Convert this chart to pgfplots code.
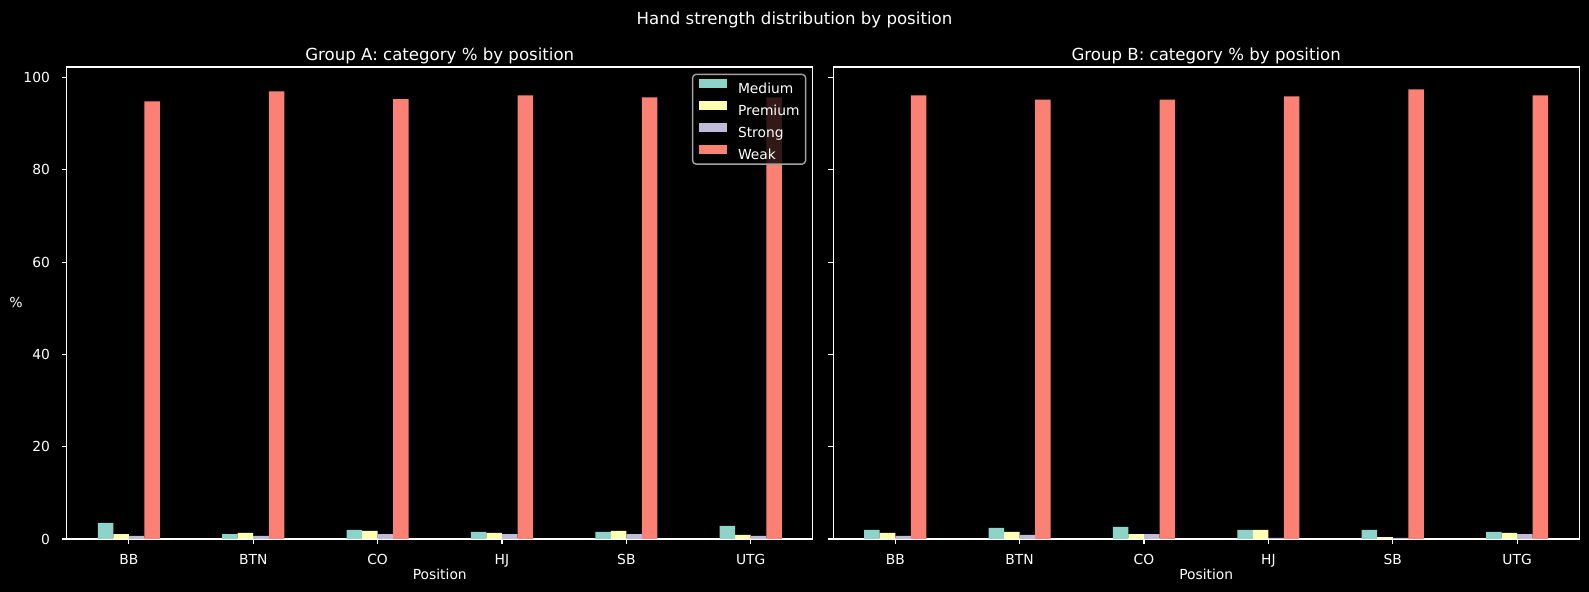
\documentclass[border=0pt]{standalone}
\usepackage{fontspec}
\setmainfont{DejaVu Sans}
\usepackage{pgfplots}
\usepackage{pgfplotstable}
\pgfplotsset{compat=1.18}
\definecolor{cM}{HTML}{8DD3C7}
\definecolor{cP}{HTML}{FEFFB3}
\definecolor{cS}{HTML}{BFBBD9}
\definecolor{cW}{HTML}{FA8174}

\pgfplotstableread{
pos M P S W
0 3.47 1.08 0.65 94.8
1 1.08 1.30 0.65 97.0
2 1.95 1.74 1.08 95.3
3 1.52 1.30 1.08 96.1
4 1.52 1.74 1.08 95.7
5 2.82 0.87 0.65 95.7
}\dataA

\pgfplotstableread{
pos M P S W
0 1.95 1.30 0.65 96.1
1 2.39 1.52 0.87 95.2
2 2.60 1.08 1.08 95.2
3 1.95 1.95 0.22 95.9
4 1.95 0.43 0.22 97.4
5 1.52 1.30 1.08 96.1
}\dataB

\pgfplotsset{
  myaxis/.style={
    scale only axis, width=537.3bp, height=339.84bp,
    xmin=-0.5, xmax=5.5, ymin=0, ymax=102.27,
    axis background/.style={fill=black},
    axis line style={white, line width=0.8bp},
    tick style={white, line width=0.8bp},
    tick align=outside, major tick length=3.5bp,
    tick pos=left,
    xtick={0,1,2,3,4,5}, xticklabels={BB,BTN,CO,HJ,SB,UTG},
    ytick={0,20,40,60,80,100},
    ticklabel style={font=\fontsize{10}{12}\selectfont, text=white},
    /pgf/number format/assume math mode=true,
    xticklabel style={anchor=base, inner sep=0pt, yshift=-14.6bp},
    yticklabel style={anchor=east, inner sep=0pt, xshift=-8.4bp},
    xlabel={Position},
    xlabel style={at={([yshift=-29.5bp]axis description cs:0.5,0)}, anchor=base, font=\fontsize{10}{12}\selectfont, text=white},
    every axis title/.style={at={([yshift=4.8bp]axis description cs:0.5,1)}, anchor=base, font=\fontsize{12}{14.4}\selectfont, text=white},
    ybar, bar width=0.125,
    legend image code/.code={\fill[#1, draw=none, fill opacity=1, sharp corners] (0bp,0.4bp) rectangle (20.4bp,6.9bp);},
  }
}

\begin{document}
\begin{tikzpicture}
\fill[black] (0bp,0bp) rectangle (1144.08bp,426.24bp);
\node[text=white, font=\fontsize{12}{14.4}\selectfont, anchor=base, inner sep=0pt] at (572.04bp,408.8bp) {Hand strength distribution by position};

\begin{axis}[myaxis, at={(48bp,38.16bp)}, anchor=south west,
  title={Group A: category \% by position},
  ylabel={\%},
  ylabel style={at={([xshift=-36.5bp]axis description cs:0,0.5)}, rotate=90, anchor=center, font=\fontsize{10}{12}\selectfont, text=white},
  legend style={at={([xshift=-4.8bp,yshift=-4.8bp]axis description cs:1,1)}, anchor=north east,
    fill=black, fill opacity=0.8, text opacity=1, draw=white!64!black, draw opacity=1, line width=1bp,
    rounded corners=2.5bp, inner xsep=4.3bp, inner ysep=3.4bp, /tikz/row sep=5.2bp, /tikz/column sep=8bp,
    font=\fontsize{10}{12}\selectfont, text=white,
    nodes={inner sep=0pt, text height=7.3bp, text depth=0pt}},
  legend cell align=left,
]
\addplot[fill=cM, draw=none, bar shift=-0.1875] table[x=pos,y=M]{\dataA};
\addplot[fill=cP, draw=none, bar shift=-0.0625] table[x=pos,y=P]{\dataA};
\addplot[fill=cS, draw=none, bar shift=0.0625] table[x=pos,y=S]{\dataA};
\addplot[fill=cW, draw=none, bar shift=0.1875] table[x=pos,y=W]{\dataA};
\legend{Medium,Premium,Strong,Weak}
\end{axis}

\begin{axis}[myaxis, at={(599.8bp,38.16bp)}, anchor=south west,
  title={Group B: category \% by position},
  yticklabels={},
]
\addplot[fill=cM, draw=none, bar shift=-0.1875] table[x=pos,y=M]{\dataB};
\addplot[fill=cP, draw=none, bar shift=-0.0625] table[x=pos,y=P]{\dataB};
\addplot[fill=cS, draw=none, bar shift=0.0625] table[x=pos,y=S]{\dataB};
\addplot[fill=cW, draw=none, bar shift=0.1875] table[x=pos,y=W]{\dataB};
\end{axis}
\end{tikzpicture}
\end{document}
